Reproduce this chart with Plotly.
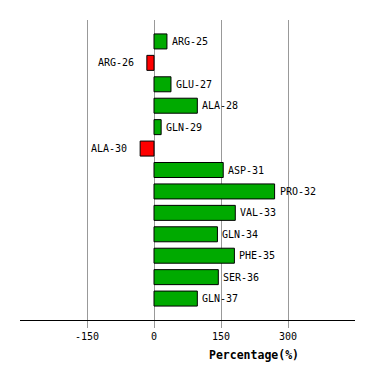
import plotly.graph_objects as go

residues = ["ARG-25", "ARG-26", "GLU-27", "ALA-28", "GLN-29", "ALA-30", "ASP-31",
            "PRO-32", "VAL-33", "GLN-34", "PHE-35", "SER-36", "GLN-37"]
values = [29, -16, 38, 97, 16, -31, 155, 270, 182, 142, 180, 144, 97]
tick_vals = [-150, 0, 150, 300]
tick_text = ["-150", "0", "150", "300"]

colors = ["#00AA00" if v >= 0 else "#FF0000" for v in values]

fig = go.Figure()
fig.add_trace(go.Bar(
    x=values, y=residues, orientation="h",
    marker=dict(color=colors, line=dict(color="black", width=1)),
    width=0.7, showlegend=False, hoverinfo="x+y",
))

font = "DejaVu Sans Mono"
for r, v in zip(residues, values):
    pos = v >= 0
    fig.add_annotation(
        x=v, y=r, text=r, showarrow=False,
        xanchor="left" if pos else "right",
        xshift=3 if pos else -11,
        font=dict(family=font, size=10, color="black"),
    )

fig.add_annotation(
    x=0.699, y=-0.117, xref="paper", yref="paper", text="<b>Percentage(%)</b>",
    showarrow=False, xanchor="center", yanchor="middle",
    font=dict(family=font, size=11.5, color="black"),
)

fig.update_layout(
    width=366, height=372,
    margin=dict(l=12, r=19, t=12, b=60),
    paper_bgcolor="white", plot_bgcolor="white",
    font=dict(family=font, size=10, color="black"),
    xaxis=dict(
        range=[-300, 450], tickvals=tick_vals, ticktext=tick_text,
        showgrid=True, gridcolor="#999999", gridwidth=1, zeroline=False,
        showline=True, linecolor="black", linewidth=1,
        ticks="outside", ticklen=7, tickcolor="#999999",
        tickfont=dict(family=font, size=10, color="black"),
    ),
    yaxis=dict(
        range=[13, -1], showticklabels=False, showgrid=False,
        zeroline=False, showline=False, ticks="",
    ),
)

fig.write_html("out.html")
